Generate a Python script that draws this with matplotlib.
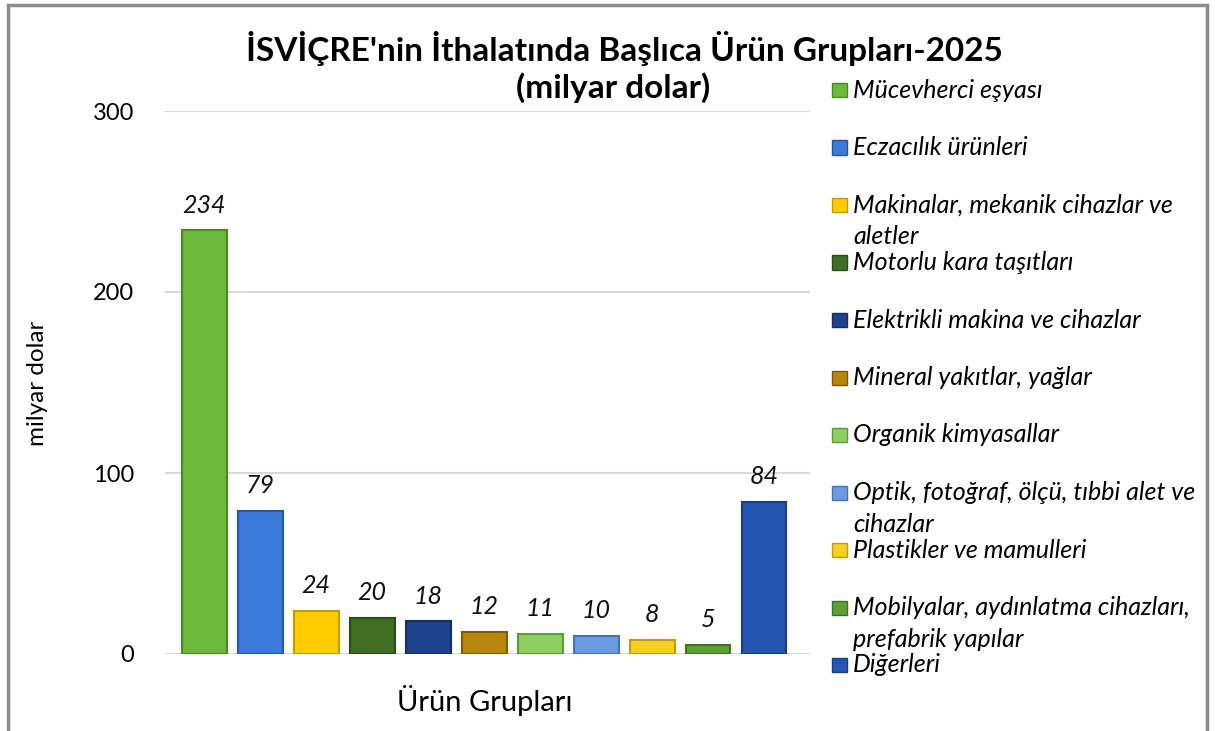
import matplotlib
matplotlib.use("Agg")
import matplotlib.pyplot as plt
from matplotlib.patches import Rectangle

categories = [
    "Mücevherci eşyası",
    "Eczacılık ürünleri",
    "Makinalar, mekanik cihazlar ve\naletler",
    "Motorlu kara taşıtları",
    "Elektrikli makina ve cihazlar",
    "Mineral yakıtlar, yağlar",
    "Organik kimyasallar",
    "Optik, fotoğraf, ölçü, tıbbi alet ve\ncihazlar",
    "Plastikler ve mamulleri",
    "Mobilyalar, aydınlatma cihazları,\nprefabrik yapılar",
    "Diğerleri",
]
values = [234, 79, 24, 20, 18, 12, 11, 10, 8, 5, 84]
colors = ["#6cb83a", "#3a7ad8", "#ffcc00", "#3f6e22", "#1f428c", "#b8860b",
          "#8ed060", "#6a9be0", "#f7cf1e", "#5ea035", "#2556b2"]
edges = ["#4a8a25", "#2656a8", "#c79a00", "#2a4d15", "#142d66", "#7e5c06",
         "#5f9a3c", "#4472b8", "#c19c10", "#3d7420", "#183d85"]
yticks = [0, 100, 200, 300]

plt.rcParams['font.family'] = ['Lato', 'DejaVu Sans']

W, H = 1215, 731
fig = plt.figure(figsize=(W / 100, H / 100), dpi=100)

# outer frame
fig.patches.append(Rectangle((8 / W, -0.05), (1207 - 8) / W, 1.05 - 5 / H,
                             transform=fig.transFigure, fill=False,
                             edgecolor="#8c8c8c", linewidth=2.5))

ax = fig.add_axes([165 / W, 1 - 654 / H, (810 - 165) / W, (654 - 111) / H])
x = list(range(len(values)))
bars = ax.bar(x, values, width=0.8, color=colors, edgecolor=edges, linewidth=1.5, zorder=3)
for xi, v in zip(x, values):
    ax.annotate(f"{v}", (xi, v), xytext=(0, 10), textcoords="offset points",
                ha="center", va="bottom", fontsize=18, style="italic", color="#111111")

ax.set_ylim(0, 300)
ax.set_xlim(-0.70, 10.82)
ax.set_yticks(yticks)
ax.set_yticklabels([str(t) for t in yticks], fontsize=17)
ax.set_xticks([])
ax.tick_params(axis="y", length=0, pad=22)
ax.grid(axis="y", color="#d9d9d9", linewidth=1.5, zorder=0)
for s in ax.spines.values():
    s.set_visible(False)

fig.text(37 / W, 1 - 383 / H, "milyar dolar", rotation=90, ha="center", va="center", fontsize=17.5)
fig.text(485 / W, 1 - 700 / H, "Ürün Grupları", ha="center", va="center", fontsize=21)

fig.text(624 / W, 1 - 48 / H, "İSVİÇRE'nin İthalatında Başlıca Ürün Grupları-2025",
         ha="center", va="center", fontsize=24, fontweight="bold")
fig.text(613 / W, 1 - 88 / H, "(milyar dolar)", ha="center", va="center",
         fontsize=24, fontweight="bold")

# legend
for i, (lab, c, e) in enumerate(zip(categories, colors, edges)):
    yc = 90 + 57.5 * i
    fig.patches.append(Rectangle((832 / W, 1 - (yc + 7) / H), 15 / W, 14 / H,
                                 transform=fig.transFigure, facecolor=c,
                                 edgecolor=e, linewidth=1))
    for k, line in enumerate(lab.split("\n")):
        fig.text(853 / W, 1 - (yc + 32 * k) / H, line, ha="left", va="center",
                 fontsize=18, style="italic")

fig.savefig("out.png", dpi=100)
